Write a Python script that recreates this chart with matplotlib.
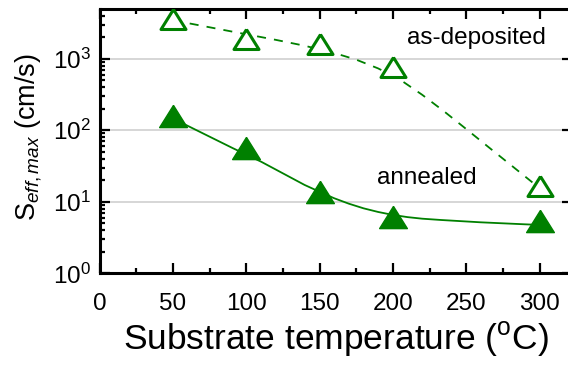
import matplotlib
matplotlib.use("Agg")
import matplotlib.pyplot as plt
from matplotlib.ticker import LogLocator, MultipleLocator, NullFormatter

plt.rcParams['font.family'] = ['Liberation Sans', 'DejaVu Sans']
plt.rcParams['mathtext.fontset'] = 'custom'
plt.rcParams['mathtext.rm'] = 'Liberation Sans'
plt.rcParams['mathtext.it'] = 'Liberation Sans:italic'
plt.rcParams['mathtext.bf'] = 'Liberation Sans:bold'

# ---- data ----
temperature = [50, 100, 150, 200, 300]
as_deposited = [3560, 1900, 1600, 765, 16.5]
annealed = [160, 56.5, 13.5, 6.2, 5.3]

# fit curves
fit_dep_x = [50, 60, 95, 120, 140, 160, 175, 190, 205, 220, 235, 250, 265,
             280, 290, 300]
fit_dep_y = [3444, 3148, 2296, 1837, 1514, 1202, 970, 731, 508, 313, 183,
             104, 58.6, 33.2, 22.7, 15.5]
fit_ann_x = [50, 59.1, 91.0, 110.2, 139.8, 150, 160, 170, 180, 190, 200,
             210, 220, 233, 260, 290, 300]
fit_ann_y = [146, 118, 56, 36.3, 17.2, 13.8, 11.2, 9.4, 8.1, 7.2, 6.55,
             6.1, 5.8, 5.56, 5.16, 4.84, 4.75]

xticks = [0, 50, 100, 150, 200, 250, 300]
green = '#008000'

W, H = 568, 367
fig = plt.figure(figsize=(W / 100, H / 100), dpi=100)
left_px, bottom_px, top_px = 99.5, 273.3, 9.0
xmax = 322
px_per_unit = 1.4667
ax = fig.add_axes([left_px / W, (H - bottom_px) / H,
                   xmax * px_per_unit / W, (bottom_px - top_px) / H])

tri = [(0, 0.8), (-1, -0.8), (1, -0.8), (0, 0.8)]

ax.plot(fit_dep_x, fit_dep_y, color=green, lw=1.3, ls=(0, (5, 4.5)), zorder=2)
ax.plot(fit_ann_x, fit_ann_y, color=green, lw=1.3, ls='-', zorder=2)
ax.plot(temperature, as_deposited, ls='none', marker=tri, ms=18,
        mfc='white', mec=green, mew=2.2, zorder=3)
ax.plot(temperature, annealed, ls='none', marker=tri, ms=20,
        mfc=green, mec=green, mew=1.0, zorder=3)

ax.set_yscale('log')
ax.set_ylim(1, 4950)
ax.set_xlim(0, xmax)
ax.set_xticks(xticks)
ax.xaxis.set_minor_locator(MultipleLocator(25))
ax.yaxis.set_major_locator(LogLocator(base=10, numticks=10))
ax.yaxis.set_minor_locator(LogLocator(base=10, subs=range(2, 10), numticks=20))
ax.yaxis.set_minor_formatter(NullFormatter())

ax.grid(True, axis='y', which='major', color='#cccccc', lw=1.1, zorder=0)
ax.set_axisbelow(True)

for s in ax.spines.values():
    s.set_linewidth(2.2)

ax.tick_params(which='both', direction='in', top=True, right=True,
               labelsize=17.5, width=1.6)
ax.tick_params(axis='x', pad=14)
ax.tick_params(axis='y', pad=6)
ax.tick_params(which='major', length=7)
ax.tick_params(which='minor', length=3.5)
ax.tick_params(axis='y', which='minor', right=False)

ax.set_xlabel('Substrate temperature ($^{\\mathrm{o}}$C)', fontsize=25.5)
ax.set_ylabel('S$_{\\mathit{eff,max}}$ (cm/s)', fontsize=19.5)
ax.xaxis.set_label_coords(0.50, -0.175)
ax.yaxis.set_label_coords(-0.118, 0.515)

ax.text(256.7, 1589, 'as-deposited', fontsize=17.5, ha='center', va='baseline')
ax.text(223.1, 17.7, 'annealed', fontsize=17.5, ha='center', va='baseline')

fig.savefig('out.png', dpi=100)
